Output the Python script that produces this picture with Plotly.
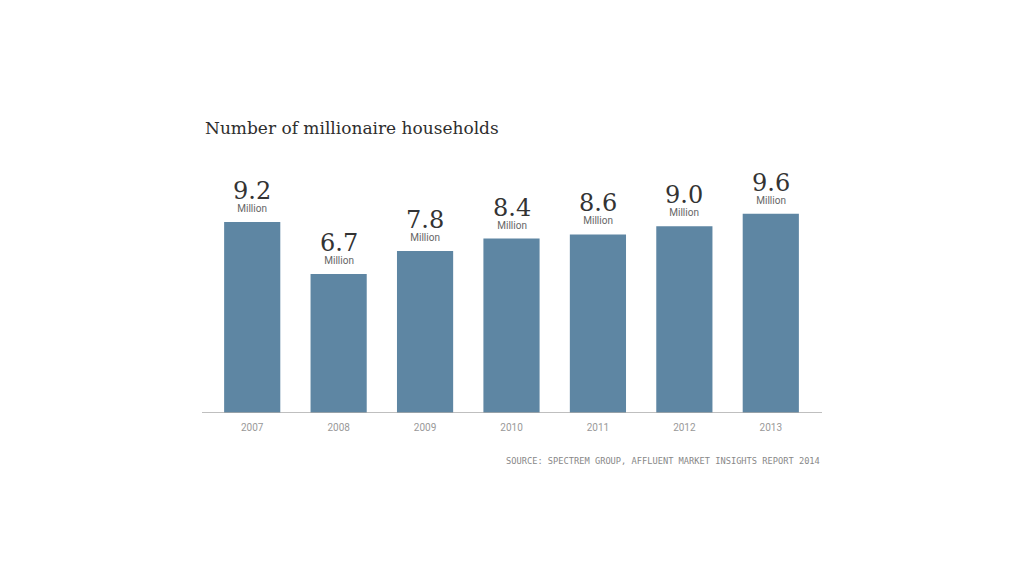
import plotly.graph_objects as go

years = ["2007", "2008", "2009", "2010", "2011", "2012", "2013"]
households_millions = [9.2, 6.7, 7.8, 8.4, 8.6, 9.0, 9.6]
value_labels = ["9.2", "6.7", "7.8", "8.4", "8.6", "9.0", "9.6"]
unit_label = "Million"
title_text = "Number of millionaire households"
source_text = "SOURCE: SPECTREM GROUP, AFFLUENT MARKET INSIGHTS REPORT 2014"

W, H = 1024, 576
bar_color = "#5e86a3"

fig = go.Figure()
fig.add_trace(go.Bar(
    x=years, y=households_millions,
    marker=dict(color=bar_color, line=dict(width=0)),
    width=0.65, hoverinfo="skip",
))

annotations = []
for i, (v, lab) in enumerate(zip(households_millions, value_labels)):
    annotations.append(dict(
        x=i, y=v, xref="x", yref="y",
        text=(f"<span style='font-family:DejaVu Serif;font-size:24px;color:#333333'>{lab}</span>"
              f"<br>{unit_label}"),
        showarrow=False, yanchor="bottom", yshift=7, borderpad=0,
        font=dict(family="Liberation Sans Narrow, Roboto", size=10, color="#666666"),
    ))

annotations.append(dict(
    x=203 / W, y=1 - 128 / H, xref="paper", yref="paper", text=title_text,
    showarrow=False, xanchor="left", yanchor="middle",
    font=dict(family="DejaVu Serif", size=17, color="#2e2e2e"),
))
annotations.append(dict(
    x=822 / W, y=1 - 461 / H, xref="paper", yref="paper", text=source_text,
    showarrow=False, xanchor="right", yanchor="middle",
    font=dict(family="DejaVu Sans Mono", size=8.7, color="#888888"),
))

fig.update_layout(
    width=W, height=H,
    margin=dict(l=0, r=0, t=0, b=0, autoexpand=False),
    paper_bgcolor="white", plot_bgcolor="white",
    showlegend=False,
    annotations=annotations,
    xaxis=dict(
        type="category",
        domain=[209 / W, 814 / W],
        range=[-0.5, 6.5],
        showgrid=False, zeroline=False, showline=False,
        ticks="outside", ticklen=5, tickcolor="rgba(0,0,0,0)",
        tickfont=dict(family="Liberation Sans Narrow, Roboto", size=10, color="#999999"),
        automargin=False, fixedrange=True,
    ),
    yaxis=dict(
        domain=[1 - 413 / H, 1 - 150 / H],
        range=[0, 263 / 20.76],
        showgrid=False, zeroline=False, showline=False, showticklabels=False,
        automargin=False, fixedrange=True,
    ),
    shapes=[dict(
        type="line", xref="paper", yref="y",
        x0=202 / W, x1=822 / W, y0=0, y1=0,
        line=dict(color="#aaaaaa", width=1.5),
    )],
)

fig.write_html("out.html")
